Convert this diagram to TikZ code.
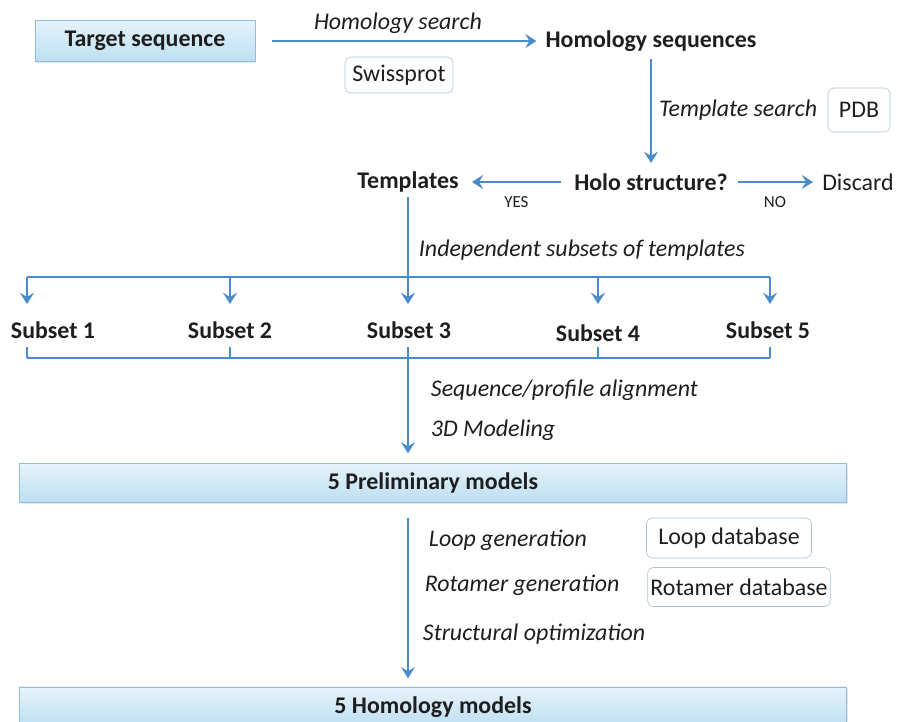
\documentclass[tikz,border=0pt]{standalone}
\usepackage{fontspec}
\setmainfont{Carlito}
\usetikzlibrary{positioning, arrows.meta, shadows}
\definecolor{flowblue}{HTML}{4A8BC9}
\definecolor{boxtop}{HTML}{E6F3FB}
\definecolor{boxbot}{HTML}{BDDFF1}
\definecolor{boxedge}{HTML}{92BCD8}
\definecolor{dbedge}{HTML}{A9C3D6}
\definecolor{ink}{HTML}{1E1E1E}
\newcommand{\flowfont}{\fontsize{17}{20}\selectfont}
\tikzset{
block/.style={
  draw=boxedge,
  rectangle,
  top color=boxtop, bottom color=boxbot,
  drop shadow={opacity=0.2, shadow xshift=1pt, shadow yshift=-1pt},
  text=ink, font=\flowfont\bfseries
  },
title/.style={text=ink, font=\flowfont\bfseries},
plain/.style={text=ink, font=\flowfont},
action/.style={text=ink, font=\flowfont\itshape},
answer/.style={text=ink, font=\fontsize{12}{14}\selectfont},
dbase/.style={
  draw=dbedge,
  rounded corners=4pt,
  fill=white,
  inner sep=2pt,
  text=ink, font=\flowfont
  },
line/.style={-{Stealth[length=8pt,width=10pt,inset=3pt]}, draw=flowblue, line width=1.9pt},
tie/.style={draw=flowblue, line width=1.9pt}
}

\begin{document}
\begin{tikzpicture}[x=0.025cm, y=-0.025cm]
\useasboundingbox (0,0) rectangle (897,722);

% search for templates
\node[block, minimum width=5.5cm, minimum height=1.025cm]	(target)	at (145,41)		{Target sequence};
\node[title]	(homseq)	at (651,41)		{Homology sequences};
\node[dbase, minimum width=2.7cm, minimum height=0.9cm]	(swiss)	at (399,75)	{Swissprot};
\node[title]	(holo)		at (651,182)	{Holo structure?};
\node[dbase, minimum width=1.55cm, minimum height=1.1cm]	(pdb)	at (859,110)	{PDB};
\node[title]	(tmpl)		at (408,182)	{Templates};
\node[plain]	(discard)	at (858,182)	{Discard};

\draw[line, shorten <=12pt, shorten >=3pt]	(target.east)	--	node[action, above=1pt] (homsearch) {Homology search} (homseq.west);
\draw[line, shorten <=2pt, shorten >=4pt]	(homseq.south)	--	(holo.north);
\node[action]	(tmplsearch)	[left=4pt of pdb]	{Template search};
\draw[line, shorten <=6pt, shorten >=6pt]	(holo.west)		--	node[answer, below=6pt] (yes) {YES} (tmpl.east);
\draw[line, shorten <=4pt, shorten >=3pt]	(holo.east)		--	node[answer, below=6pt] (no) {NO} (discard.west);

% split into subsets
\node[title]	(sub1)	at (53,330)		{Subset 1};
\node[title]	(sub2)	at (230,330)	{Subset 2};
\node[title]	(sub3)	at (409,330)	{Subset 3};
\node[title]	(sub4)	at (598,333)	{Subset 4};
\node[title]	(sub5)	at (768,330)	{Subset 5};

\foreach \i/\x in {1/27, 2/230, 3/408, 4/598, 5/770} {
  \coordinate (up\i) at (\x,277);
  \coordinate (dn\i) at (\x,304);
  \coordinate (tk\i) at (\x,347);
  \coordinate (lo\i) at (\x,358);
  \draw[line]	(up\i)	--	(dn\i);
  \draw[tie]	(tk\i)	--	(lo\i);
}
\draw[tie]	(up1)	--	(up5);
\draw[tie]	(lo1)	--	(lo5);
\draw[tie]	(tmpl.south)	--	(up3);
\node[action, anchor=west]	(indep)	at (414,250)	{Independent subsets of templates};

% modelling
\node[block, minimum width=20.675cm, minimum height=0.975cm]	(prelim)	at (433,483)	{5 Preliminary models};
\draw[line, shorten >=7pt]	(tk3)	--	(prelim.north -| tk3);
\node[action, anchor=west]	(align)	at (426,390)	{Sequence/profile alignment};
\node[action, anchor=west]	(model3d)	at (426,430)	{3D Modeling};

% refinement
\node[block, minimum width=20.675cm, minimum height=1cm]	(final)		at (433,707)	{5 Homology models};
\coordinate (refine) at (408,518);
\draw[line, shorten >=6pt]	(refine)	--	(final.north -| refine);
\node[action, anchor=west]	(loopgen)	at (424,540)	{Loop generation};
\node[action, anchor=west]	(rotgen)	at (420,585)	{Rotamer generation};
\node[action, anchor=west]	(optim)		at (418,634)	{Structural optimization};
\node[dbase, minimum width=4.125cm, minimum height=1cm]	(loopdb)	at (729,538)	{Loop database};
\node[dbase, minimum width=4.55cm, minimum height=0.975cm]	(rotdb)	at (739,587)	{Rotamer database};
\end{tikzpicture}
\end{document}
